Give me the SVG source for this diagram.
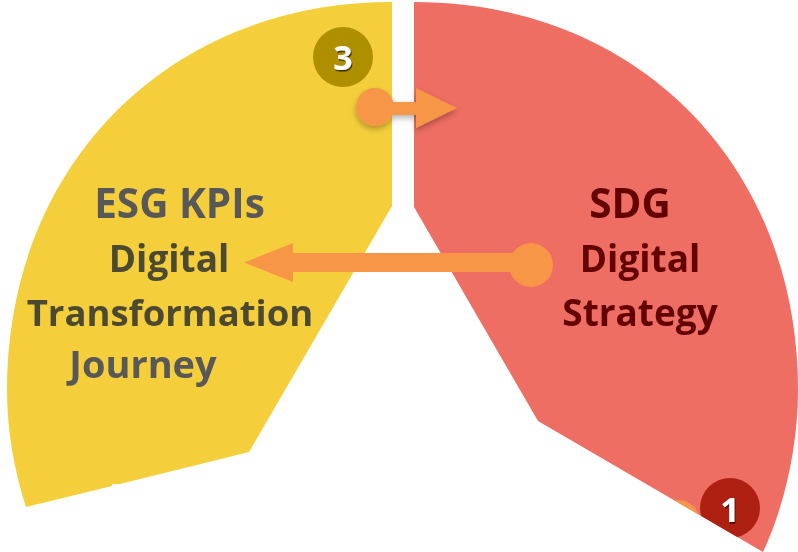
<svg xmlns="http://www.w3.org/2000/svg" width="798" height="552" viewBox="0 0 798 552">
<defs>
<filter id="sh" x="-30%" y="-30%" width="160%" height="170%"><feDropShadow dx="0" dy="3" stdDeviation="3" flood-color="#000" flood-opacity="0.3"/></filter>
<filter id="ts" x="-30%" y="-30%" width="160%" height="160%"><feDropShadow dx="1" dy="1.500" stdDeviation="0.6" flood-color="#000" flood-opacity="0.7"/></filter>
<filter id="soft" x="-5%" y="-5%" width="110%" height="110%"><feGaussianBlur stdDeviation="0.45"/></filter>
<clipPath id="redclip"><path d="M414 2V207L538 421L763 552L798 552V0H414Z"/></clipPath>
</defs>
<style>
.t{font-family:"Open Sans","Noto Sans",sans-serif;font-weight:700;font-size:37px;text-anchor:middle;filter:url(#soft)}
.big{font-size:40.500px}
.g{fill:#595959}.d{fill:#4b4a32}.r{fill:#630000}
.n{font-family:"Open Sans","Noto Sans",sans-serif;font-weight:700;font-size:34px;fill:#fff;text-anchor:middle;filter:url(#ts)}
.o{fill:#f79646}
</style>
<rect width="798" height="552" fill="#fff"/>
<g id="yellow-segment">
<path d="M392 2V206L249 452L120 484L112 484V486L26 507C14 470 7 430 7 390C7 165 169 2 392 2Z" fill="#f5cf3b"/>
<text class="t g big" x="179.500" y="218">ESG KPIs</text>
<text class="t d" x="169" y="272">Digital</text>
<text class="t d" x="170" y="326" style="font-size:36.500px">Transformation</text>
<text class="t g" x="143" y="378" style="font-size:38px">Journey</text>
</g>
<g id="red-segment">
<path d="M414 2C637 2 798 165 798 390C798 445 785 505 763 552L538 421L414 207Z" fill="#ee6e63"/>
<text class="t r big" x="630" y="218">SDG</text>
<text class="t r" x="640" y="272">Digital</text>
<text class="t r" x="640" y="326">Strategy</text>
</g>
<g id="badge-3">
<circle cx="343" cy="57" r="30" fill="#ae8f00"/>
<text class="n" x="343" y="70">3</text>
</g>
<g id="badge-1">
<g clip-path="url(#redclip)">
<circle cx="678" cy="522" r="22" class="o"/>
<circle cx="730" cy="508" r="30" fill="#ae2012"/>
</g>
<text class="n" x="730" y="522">1</text>
</g>
<g id="connectors">
<path class="o" filter="url(#sh)" d="M375 88A19 19 0 1 1 375 126A19 19 0 1 1 375 88ZM390 102H416V88L457 108L416 128V115H390Z"/>
<path class="o" d="M531 243A22 22 0 1 1 531 287A22 22 0 1 1 531 243ZM293 253H515V272H293V282L244 262.500L293 243Z"/>
</g>
</svg>
